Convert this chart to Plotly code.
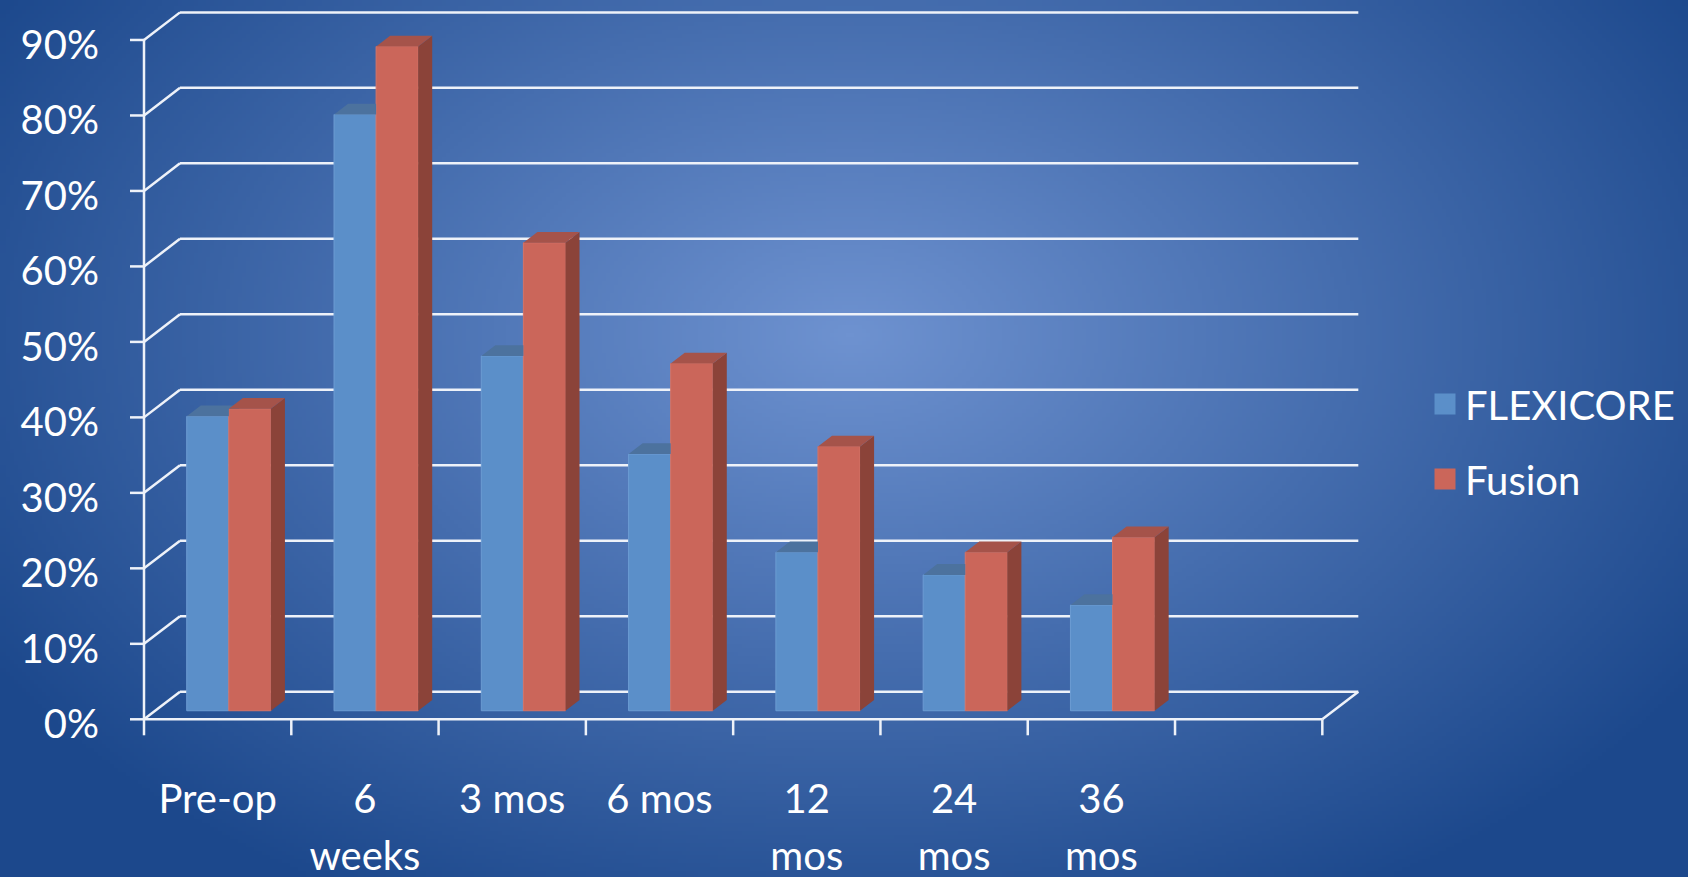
import zlib, struct, base64
import numpy as np
import plotly.graph_objects as go

# ---------------- data ----------------
categories = ["Pre-op", "6 weeks", "3 mos", "6 mos", "12 mos", "24 mos", "36 mos"]
label_line1 = ["Pre-op", "6", "3 mos", "6 mos", "12", "24", "36"]
label_line2 = ["", "weeks", "", "", "mos", "mos", "mos"]
flexicore = [39, 79, 47, 34, 21, 18, 14]
fusion = [40, 88, 62, 46, 35, 21, 23]
y_ticks = [0, 10, 20, 30, 40, 50, 60, 70, 80, 90]
y_tick_text = ["0%", "10%", "20%", "30%", "40%", "50%", "60%", "70%", "80%", "90%"]
n_slots = 8  # Excel category axis has one empty trailing slot

# ---------------- style / geometry ----------------
W, H = 1688, 877
SLOT_PX = 147.29          # pixels per category slot
PCT_PX = 7.548            # pixels per percentage point
ORIGIN = (144, 719.3)     # pixel position of front-left floor corner
WALL_DX = 36 / SLOT_PX    # depth of walls, in axis units
WALL_DY = 27.6 / PCT_PX
BAR_FRONT = 0.31          # bar front plane as fraction of wall depth
BAR_DEPTH = 0.39
BAR_W = 42.08 / SLOT_PX
PLOT_PX = dict(left=110, right=1380, top=0, bottom=745)

FONT = "Lato"
GRID = "#EEF2F9"
BLUE, BLUE_TOP = "#5B8FC9", "#4C729E"
RED, RED_TOP, RED_SIDE = "#CB665A", "#A5534A", "#8B4339"

x_range = [(PLOT_PX["left"] - ORIGIN[0]) / SLOT_PX, (PLOT_PX["right"] - ORIGIN[0]) / SLOT_PX]
y_range = [-(PLOT_PX["bottom"] - ORIGIN[1]) / PCT_PX, (ORIGIN[1] - PLOT_PX["top"]) / PCT_PX]

# ---------------- background radial gradient (png data uri) ----------------
def gradient_png(w=422, h=220, center=(850, 335), radii=(1000, 650),
                 c_in=(110, 146, 208), c_out=(28, 72, 140)):
    xs = (np.arange(w) + 0.5) / w * W
    ys = (np.arange(h) + 0.5) / h * H
    X, Y = np.meshgrid(xs, ys)
    t = np.clip(np.sqrt(((X - center[0]) / radii[0]) ** 2 + ((Y - center[1]) / radii[1]) ** 2), 0, 1)
    a, b = np.array(c_in, float), np.array(c_out, float)
    img = (a * (1 - t[..., None]) + b * t[..., None]).round().astype(np.uint8)
    raw = b"".join(b"\x00" + img[r].tobytes() for r in range(h))

    def chunk(tag, data):
        return struct.pack(">I", len(data)) + tag + data + struct.pack(">I", zlib.crc32(tag + data) & 0xffffffff)

    png = (b"\x89PNG\r\n\x1a\n" + chunk(b"IHDR", struct.pack(">IIBBBBB", w, h, 8, 2, 0, 0, 0))
           + chunk(b"IDAT", zlib.compress(raw, 9)) + chunk(b"IEND", b""))
    return "data:image/png;base64," + base64.b64encode(png).decode()

fig = go.Figure()

# ---------------- bars (front faces) ----------------
bx0, by0 = BAR_FRONT * WALL_DX, BAR_FRONT * WALL_DY
bdx, bdy = BAR_DEPTH * WALL_DX, BAR_DEPTH * WALL_DY
centers = [i + 0.5 + bx0 for i in range(len(categories))]

fig.add_trace(go.Bar(x=centers, y=flexicore, base=by0, width=BAR_W, offset=-BAR_W,
                     marker=dict(color=BLUE, line=dict(color="#6C9CD3", width=1)),
                     name="FLEXICORE", showlegend=False, hoverinfo="skip"))
fig.add_trace(go.Bar(x=centers, y=fusion, base=by0, width=BAR_W, offset=0,
                     marker=dict(color=RED, line=dict(color="#D47468", width=1)),
                     name="Fusion", showlegend=False, hoverinfo="skip"))

# ---------------- 3-D top / side faces ----------------
bt_x, bt_y, rt_x, rt_y, rs_x, rs_y = [], [], [], [], [], []
for c, vb, vr in zip(centers, flexicore, fusion):
    xl, xm, xr = c - BAR_W, c, c + BAR_W
    tb, tr = by0 + vb, by0 + vr
    # blue top, minus the part hidden behind the red front face
    if tb + bdy <= tr:
        px = [xl, xm, xm, xl + bdx, xl]
        py = [tb, tb, tb + bdy, tb + bdy, tb]
    else:
        xc = xm + bdx * (tr - tb) / bdy
        px = [xl, xm, xm, xc, xm + bdx, xl + bdx, xl]
        py = [tb, tb, tr, tr, tb + bdy, tb + bdy, tb]
    bt_x += px + [None]; bt_y += py + [None]
    rt_x += [xm, xr, xr + bdx, xm + bdx, xm, None]
    rt_y += [tr, tr, tr + bdy, tr + bdy, tr, None]
    rs_x += [xr, xr, xr + bdx, xr + bdx, xr, None]
    rs_y += [by0, tr, tr + bdy, by0 + bdy, by0, None]

for fx, fy, col in [(bt_x, bt_y, BLUE_TOP), (rs_x, rs_y, RED_SIDE), (rt_x, rt_y, RED_TOP)]:
    fig.add_trace(go.Scatter(x=fx, y=fy, mode="lines", fill="toself", fillcolor=col,
                             line=dict(width=0, color=col), showlegend=False, hoverinfo="skip"))

# ---------------- legend entries ----------------
for name, col in [("FLEXICORE", BLUE), ("Fusion", RED)]:
    fig.add_trace(go.Scatter(x=[None], y=[None], mode="markers", name=name, legendgroup=name,
                             marker=dict(symbol="square", size=26, color=col,
                                         line=dict(color=col, width=5))))

# dummy trace to hold the second-line label axis
fig.add_trace(go.Scatter(x=[None], y=[None], xaxis="x2", yaxis="y", showlegend=False, hoverinfo="skip"))

# ---------------- walls, grid, ticks ----------------
shapes = []
def line(x0, y0, x1, y1):
    shapes.append(dict(type="line", xref="x", yref="y", x0=x0, y0=y0, x1=x1, y1=y1,
                       line=dict(color=GRID, width=2.5), layer="below"))

for v in y_ticks:
    line(WALL_DX, v + WALL_DY, n_slots + WALL_DX, v + WALL_DY)   # back wall
    line(0, v, WALL_DX, v + WALL_DY)                             # side wall
    line(-14 / SLOT_PX, v, 0, v)                                 # y tick mark
line(0, 0, 0, y_ticks[-1])                                       # front vertical edge
line(0, 0, n_slots, 0)                                           # floor front edge
line(n_slots, 0, n_slots + WALL_DX, WALL_DY)                     # floor right edge
for k in range(n_slots + 1):
    line(k, 0, k, -16 / PCT_PX)                                  # x tick marks

tick_font = dict(family=FONT, size=40, color="white")
fig.update_layout(
    width=W, height=H,
    margin=dict(l=0, r=0, t=0, b=0, autoexpand=False),
    paper_bgcolor="#1C488C", plot_bgcolor="rgba(0,0,0,0)",
    barmode="overlay",
    shapes=shapes,
    images=[dict(source=gradient_png(), xref="paper", yref="paper", x=0, y=1, sizex=1, sizey=1,
                 sizing="stretch", xanchor="left", yanchor="top", layer="below")],
    xaxis=dict(domain=[PLOT_PX["left"] / W, PLOT_PX["right"] / W], range=x_range,
               tickmode="array", tickvals=[i + 0.5 for i in range(len(categories))],
               ticktext=label_line1, ticks="", showgrid=False, zeroline=False, showline=False,
               tickfont=tick_font, ticklabelstandoff=27, automargin=False, fixedrange=True),
    xaxis2=dict(overlaying="x", anchor="y", side="bottom", range=x_range,
                tickmode="array", tickvals=[i + 0.5 for i in range(len(categories))],
                ticktext=label_line2, ticks="", showgrid=False, zeroline=False, showline=False,
                tickfont=tick_font, ticklabelstandoff=84, automargin=False, fixedrange=True),
    yaxis=dict(domain=[1 - PLOT_PX["bottom"] / H, 1 - PLOT_PX["top"] / H], range=y_range,
               tickmode="array", tickvals=y_ticks, ticktext=y_tick_text, ticks="",
               showgrid=False, zeroline=False, showline=False, tickfont=tick_font,
               ticklabelstandoff=10, ticklabelshift=5, automargin=False, fixedrange=True),
    legend=dict(x=1425 / W, xanchor="left", y=1 - 441.5 / H, yanchor="middle",
                font=dict(family=FONT, size=40, color="white"), bgcolor="rgba(0,0,0,0)",
                traceorder="grouped", tracegroupgap=20),
    font=dict(family=FONT, color="white"),
    showlegend=True,
)

fig.write_html("out.html")
